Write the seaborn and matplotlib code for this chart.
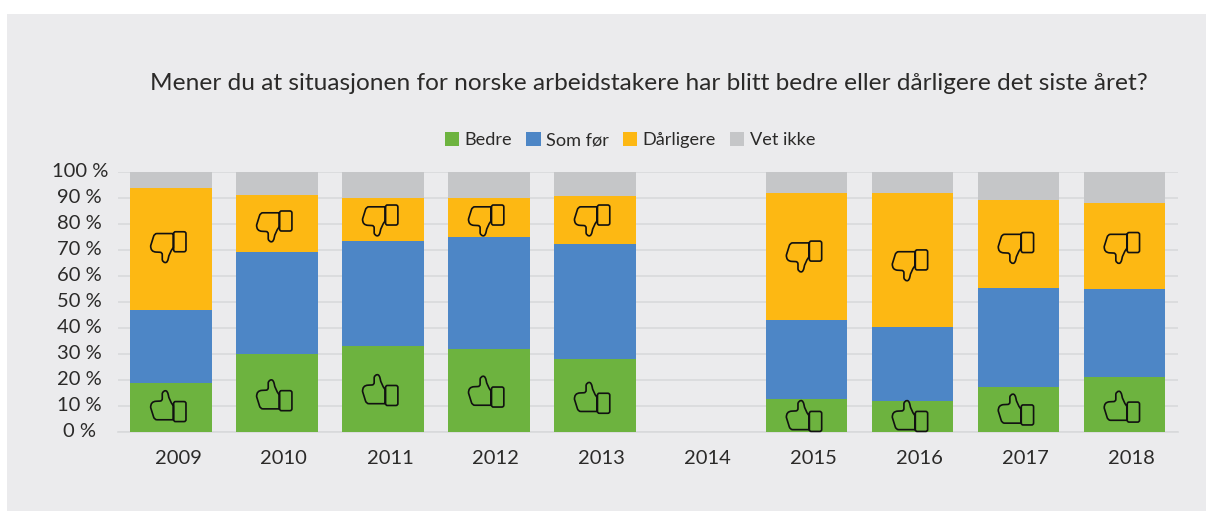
import matplotlib
matplotlib.use("Agg")
import matplotlib.pyplot as plt
import matplotlib.patches as mpatches
from matplotlib.path import Path
from matplotlib.transforms import Affine2D, ScaledTranslation
import numpy as np
import seaborn as sns

# ---------------- DATA ----------------
years = ["2009", "2010", "2011", "2012", "2013", "2014", "2015", "2016", "2017", "2018"]
bedre = [18.6, 29.7, 32.8, 31.8, 28.0, 0, 12.4, 11.7, 17.3, 21.0]
som_for = [28.2, 39.3, 40.6, 43.0, 44.3, 0, 30.7, 28.4, 38.1, 33.9]
darligere = [47.0, 22.1, 16.6, 15.2, 18.5, 0, 48.8, 51.8, 33.9, 33.1]
vet_ikke = [6.2, 8.9, 10.0, 10.0, 9.2, 0, 8.1, 8.1, 10.7, 12.0]
series_names = ["Bedre", "Som før", "Dårligere", "Vet ikke"]
series_colors = ["#6DB33F", "#4D86C6", "#FDB813", "#C5C6C8"]
y_ticks = list(range(0, 101, 10))
title = "Mener du at situasjonen for norske arbeidstakere har blitt bedre eller dårligere det siste året?"

# where the icons sit (y in percent), 2014 has none
icon_years = [0, 1, 2, 3, 4, 6, 7, 8, 9]
up_y = [9.8, 14.0, 16.0, 15.4, 13.0, 6.0, 6.0, 8.5, 9.6]
down_y = [71.0, 79.0, 81.3, 81.3, 81.3, 67.4, 64.0, 70.7, 70.7]

W, H = 1206, 511
BG = "#EBEBED"
TXT = "#2B2A29"

sns.set_style("white")
plt.rcParams["font.family"] = ["Lato", "DejaVu Sans"]

fig = plt.figure(figsize=(W / 100, H / 100), dpi=100, facecolor="white")
fig.patches.append(mpatches.Rectangle((7 / W, 0), 1 - 7 / W, 1 - 14 / H, transform=fig.transFigure,
                                      facecolor=BG, edgecolor="none", zorder=-5))
ax = fig.add_axes([118 / W, 1 - 431.5 / H, (1177.5 - 118) / W, (431.5 - 172) / H])
ax.set_facecolor("none")

# stacked bars, one barplot per series
bottom = np.zeros(len(years))
for name, vals, col in zip(series_names, [bedre, som_for, darligere, vet_ikke], series_colors):
    sns.barplot(x=years, y=vals, bottom=bottom, color=col, saturation=1, width=0.77,
                label=name, ax=ax, zorder=3, linewidth=0, edgecolor="none")
    bottom = bottom + np.array(vals)

ax.set_xlim(-0.5, 9.5)
ax.set_ylim(0, 100)
ax.set_yticks(y_ticks)
ax.set_yticklabels([f"{t} %" for t in y_ticks])
ax.grid(axis="y", color="#D8D9DB", lw=1.2, zorder=0)
ax.set_axisbelow(True)
for s in ["top", "right", "left"]:
    ax.spines[s].set_visible(False)
ax.spines["bottom"].set_color("#D8D9DB")
ax.spines["bottom"].set_linewidth(1.2)
ax.tick_params(axis="both", length=0, labelsize=14.5, labelcolor=TXT)
ax.tick_params(axis="x", pad=13)
ax.tick_params(axis="y", pad=16)

# labels in the original are a bit off the bars / gridlines
shift_x = ScaledTranslation(7 / 100, 0, fig.dpi_scale_trans)
for lab in ax.get_xticklabels():
    lab.set_transform(lab.get_transform() + shift_x)
shift_y = ScaledTranslation(-16 / 100, 2 / 100, fig.dpi_scale_trans)
for lab in ax.get_yticklabels():
    lab.set_ha("center")
    lab.set_transform(lab.get_transform() + shift_y)

fig.text(648.5 / W, 1 - 83 / H, title, ha="center", va="center", fontsize=17.52, color=TXT)

ax.legend(loc="center", bbox_to_anchor=(630 / W, 1 - 140 / H), bbox_transform=fig.transFigure,
          ncol=4, frameon=False, fontsize=13.1, labelcolor=TXT, handlelength=0.78, handleheight=0.78,
          handletextpad=0.28, columnspacing=0.8)


# ---------------- thumb icons ----------------
def thumb_path(flip=1):
    # pixel units around the icon centre
    M, Q, L, C = Path.MOVETO, Path.CURVE3, Path.LINETO, Path.CLOSEPOLY
    parts = [
        (M, (5.3, -13.7)), (L, (-11, -13.7)),
        (Q, (-13.7, -13.7)), (Q, (-14.5, -10.5)), (L, (-17.3, -1.5)),
        (Q, (-17.5, 4.5)), (Q, (-12, 4.8)), (L, (-8, 5)),
        (Q, (-5.7, 5)), (Q, (-5.7, 7.5)), (L, (-5.7, 12.5)),
        (Q, (-5, 15.3)), (Q, (-2.5, 15.3)),
        (Q, (-0.5, 15.3)), (Q, (0.3, 11.3)),
        (Q, (1, 6)), (Q, (5.3, 0.3)),
        (L, (5.3, -13.7)),
        (M, (7.5, 4.5)), (L, (16, 4.5)),
        (Q, (18, 4.5)), (Q, (18, 2.5)), (L, (18, -13.5)),
        (Q, (18, -15.5)), (Q, (16, -15.5)), (L, (7.5, -15.5)),
        (Q, (5.7, -15.5)), (Q, (5.7, -13.5)), (L, (5.7, 2.5)),
        (Q, (5.7, 4.5)), (Q, (7.5, 4.5)), (C, (7.5, 4.5)),
    ]
    v = np.array([p[1] for p in parts], float)
    v[:, 1] *= flip
    return Path(v, [p[0] for p in parts])


for pos, yu, yd in zip(icon_years, up_y, down_y):
    for yy, flip in [(yu, 1), (yd, -1)]:
        tr = Affine2D().translate(-3, 0) + ScaledTranslation(pos, yy, ax.transData)
        ax.add_patch(mpatches.PathPatch(thumb_path(flip), transform=tr, facecolor="none",
                                        edgecolor="#111111", lw=1.2, zorder=5, clip_on=False))

fig.savefig("out.png", dpi=100, facecolor="white")
